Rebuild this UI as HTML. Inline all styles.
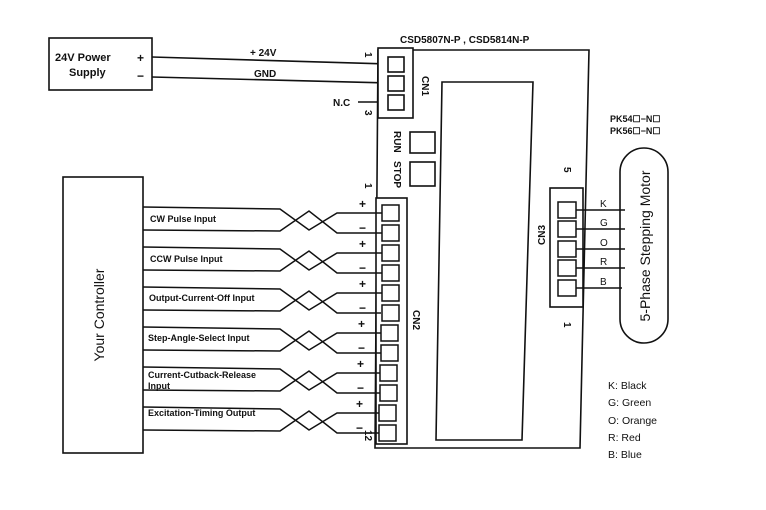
<!DOCTYPE html>
<html><head><meta charset="utf-8"><style>
html,body{margin:0;padding:0;background:#fff;}
svg{display:block;}
text{font-family:"Liberation Sans",Arial,sans-serif;fill:#111;}
</style></head><body>
<svg width="766" height="510" viewBox="0 0 766 510" xmlns="http://www.w3.org/2000/svg">
<g stroke="#111" fill="none" stroke-width="1.6">
<rect x="49" y="38" width="103" height="52"/>
<line x1="152" y1="57" x2="388" y2="64"/>
<line x1="152" y1="77" x2="388" y2="83"/>
<line x1="358" y1="102" x2="388" y2="102"/>
<polygon points="378,50 589,50 580,448 375,448"/>
<polygon points="442,82 533,82 522,440 436,440"/>
<rect x="378" y="48" width="35" height="70" fill="#fff"/>
<rect x="388" y="57" width="16" height="15"/>
<rect x="388" y="76" width="16" height="15"/>
<rect x="388" y="95" width="16" height="15"/>
<rect x="410" y="132" width="25" height="21"/>
<rect x="410" y="162" width="25" height="24"/>
<rect x="376" y="198" width="31" height="246" fill="#fff"/>
<rect x="63" y="177" width="80" height="276"/>
<rect x="550" y="188" width="33" height="119" fill="#fff"/>
<rect x="620" y="148" width="48" height="195" rx="24"/>
</g>
<g stroke="#111" fill="none" stroke-width="1.5">
<rect x="382" y="205" width="17" height="16"/><rect x="382" y="225" width="17" height="16"/>
<rect x="382" y="245" width="17" height="16"/><rect x="382" y="265" width="17" height="16"/>
<rect x="382" y="285" width="17" height="16"/><rect x="382" y="305" width="17" height="16"/>
<rect x="381" y="325" width="17" height="16"/><rect x="381" y="345" width="17" height="16"/>
<rect x="380" y="365" width="17" height="16"/><rect x="380" y="385" width="17" height="16"/>
<rect x="379" y="405" width="17" height="16"/><rect x="379" y="425" width="17" height="16"/>
<path d="M143,207 L280,209 L309,230 L337,213 L382,213 M143,230 L280,231 L309,211 L337,233 L382,233"/>
<path d="M143,247 L280,249 L309,270 L337,253 L382,253 M143,270 L280,271 L309,251 L337,273 L382,273"/>
<path d="M143,287 L280,289 L309,310 L337,293 L382,293 M143,310 L280,311 L309,291 L337,313 L381,313"/>
<path d="M143,327 L280,329 L309,350 L337,333 L381,333 M143,350 L280,351 L309,331 L337,353 L381,353"/>
<path d="M143,367 L280,369 L309,390 L337,373 L380,373 M143,390 L280,391 L309,371 L337,393 L380,393"/>
<path d="M143,407 L280,409 L309,430 L337,413 L379,413 M143,430 L280,431 L309,411 L337,433 L379,433"/>
<rect x="558" y="202" width="18" height="16"/><rect x="558" y="221" width="18" height="16"/>
<rect x="558" y="241" width="18" height="16"/><rect x="558" y="260" width="18" height="16"/>
<rect x="558" y="280" width="18" height="16"/>
<path d="M576,210 L625,210 M576,229 L625,229 M576,249 L625,249 M576,268 L625,268 M576,288 L622,288"/>
</g>
<g font-size="10" font-weight="bold">
<text x="55" y="61" font-size="11">24V Power</text>
<text x="69" y="76" font-size="11">Supply</text>
<text x="137" y="62" font-size="12">+</text>
<text x="137" y="80" font-size="12">−</text>
<text x="250" y="56">+ 24V</text>
<text x="254" y="77">GND</text>
<text x="333" y="106">N.C</text>
<text x="400" y="43">CSD5807N-P , CSD5814N-P</text>
<text x="610" y="122" font-size="9">PK54☐−N☐</text>
<text x="610" y="134" font-size="9">PK56☐−N☐</text>
</g>
<g font-size="10" font-weight="bold">
<text transform="translate(365,52) rotate(90)">1</text>
<text transform="translate(365,110) rotate(90)">3</text>
<text transform="translate(422,76) rotate(90)">CN1</text>
<text transform="translate(394,131) rotate(90)">RUN</text>
<text transform="translate(394,161) rotate(90)">STOP</text>
<text transform="translate(365,183) rotate(90)">1</text>
<text transform="translate(365,430) rotate(90)">12</text>
<text transform="translate(413,310) rotate(90)">CN2</text>
<text transform="translate(564,167) rotate(90)">5</text>
<text transform="translate(564,322) rotate(90)">1</text>
<text transform="translate(545,235) rotate(-90)" text-anchor="middle">CN3</text>
</g>
<g font-size="12" font-weight="bold">
<text x="359" y="208">+</text><text x="359" y="232">−</text>
<text x="359" y="248">+</text><text x="359" y="272">−</text>
<text x="359" y="288">+</text><text x="359" y="312">−</text>
<text x="358" y="328">+</text><text x="358" y="352">−</text>
<text x="357" y="368">+</text><text x="357" y="392">−</text>
<text x="356" y="408">+</text><text x="356" y="432">−</text>
</g>
<g font-size="9" font-weight="bold">
<text x="150" y="222">CW Pulse Input</text>
<text x="150" y="262">CCW Pulse Input</text>
<text x="149" y="301">Output-Current-Off Input</text>
<text x="148" y="341">Step-Angle-Select Input</text>
<text x="148" y="378">Current-Cutback-Release</text>
<text x="148" y="389">Input</text>
<text x="148" y="416">Excitation-Timing Output</text>
</g>
<text transform="translate(104,315) rotate(-90)" text-anchor="middle" font-size="14">Your Controller</text>
<text transform="translate(650,246) rotate(-90)" text-anchor="middle" font-size="14">5-Phase Stepping Motor</text>
<g font-size="10">
<text x="600" y="207">K</text><text x="600" y="226">G</text><text x="600" y="246">O</text>
<text x="600" y="265">R</text><text x="600" y="285">B</text>
</g>
<g font-size="10.5">
<text x="608" y="389">K: Black</text>
<text x="608" y="406">G: Green</text>
<text x="608" y="424">O: Orange</text>
<text x="608" y="441">R: Red</text>
<text x="608" y="458">B: Blue</text>
</g>
</svg>
</body></html>
